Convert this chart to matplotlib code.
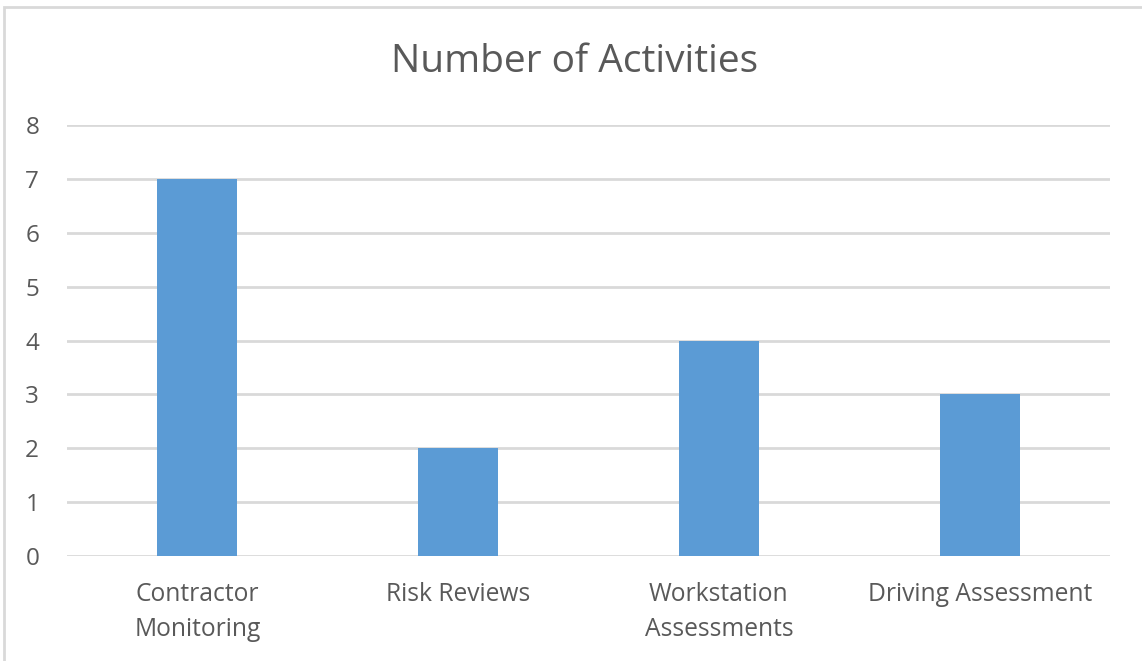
import matplotlib.pyplot as plt
from matplotlib.patches import Rectangle

categories = ["Contractor\nMonitoring", "Risk Reviews", "Workstation\nAssessments", "Driving Assessment"]
counts = [7, 2, 4, 3]

plt.rcParams['font.family'] = ['Open Sans', 'DejaVu Sans']
text_color = "#595959"
grid_color = "#D9D9D9"

fig = plt.figure(figsize=(11.42, 6.61), dpi=100)
ax = fig.add_axes([67 / 1142, 1 - 556 / 661, (1110 - 67) / 1142, (556 - 125) / 661])

x = range(len(categories))
ax.bar(x, counts, width=0.307, color="#5B9BD5", zorder=3)

ax.set_xlim(-0.5, len(categories) - 0.5)
ax.set_ylim(0, 8)
ax.set_yticks(range(0, 9))
ax.set_xticks(list(x))
ax.set_xticklabels(categories, fontsize=17.7, color=text_color, linespacing=1.5)
ax.tick_params(axis='y', labelsize=17.5, labelcolor=text_color, length=0, pad=20)
ax.tick_params(axis='x', length=0, pad=19)
ax.grid(axis='y', color=grid_color, linewidth=2, zorder=0)
for s in ax.spines.values():
    s.set_visible(False)

fig.text(575 / 1142, 1 - 62 / 661, "Number of Activities", fontsize=28,
         color=text_color, ha='center', va='center')

# chart area border
fig.patches.append(Rectangle((4 / 1142, -0.1), 1.2, 1 - 7 / 661 + 0.1,
                             transform=fig.transFigure, fill=False,
                             edgecolor=grid_color, linewidth=2))

fig.savefig("out.png", dpi=100)
